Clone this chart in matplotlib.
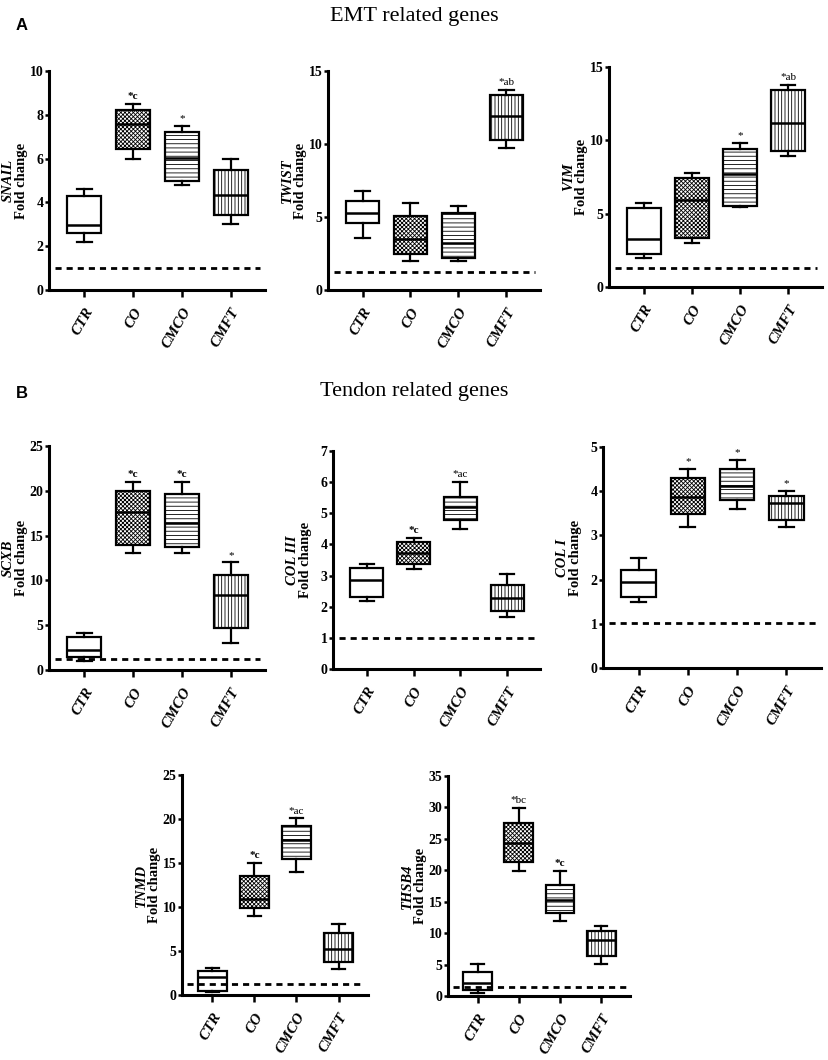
import matplotlib
matplotlib.use("Agg")
import matplotlib.pyplot as plt

plt.rcParams["font.family"] = ["Liberation Serif", "DejaVu Serif"]
plt.rcParams["hatch.linewidth"] = 0.6

# groups on the x axis
categories = ["CTR", "CO", "CMCO", "CMFT"]

# five-number summaries per group: (whisker low, q1, median, q3, whisker high)
snail = [(2.17, 2.58, 2.98, 4.30, 4.60), (6.00, 6.45, 7.60, 8.20, 8.50),
         (4.80, 4.98, 6.05, 7.20, 7.50), (3.00, 3.43, 4.33, 5.50, 6.00)]
twist = [(3.58, 4.56, 5.29, 6.09, 6.80), (1.98, 2.44, 3.46, 5.06, 5.97),
         (1.98, 2.21, 3.19, 5.24, 5.77), (9.76, 10.26, 11.92, 13.33, 13.72)]
vim = [(1.98, 2.28, 3.30, 5.40, 5.70), (3.00, 3.35, 5.92, 7.45, 7.80),
       (5.44, 5.53, 7.70, 9.43, 9.80), (8.95, 9.27, 11.16, 13.44, 13.80)]
scxb = [(1.00, 1.41, 2.23, 3.65, 4.09), (13.02, 13.95, 17.67, 19.98, 21.0),
        (13.02, 13.76, 16.44, 19.60, 21.0), (3.05, 4.65, 8.33, 10.60, 12.0)]
col3 = [(2.19, 2.32, 2.85, 3.23, 3.37), (3.20, 3.36, 3.71, 4.07, 4.21),
        (4.49, 4.78, 5.20, 5.53, 6.00), (1.68, 1.87, 2.27, 2.71, 3.05)]
col1 = [(1.50, 1.61, 1.95, 2.22, 2.50), (3.20, 3.48, 3.88, 4.30, 4.50),
        (3.59, 3.80, 4.11, 4.50, 4.71), (3.20, 3.34, 3.73, 3.90, 4.01)]
tnmd = [(0.30, 0.49, 2.08, 2.73, 3.10), (8.98, 9.85, 10.87, 13.56, 15.04),
        (14.0, 15.45, 17.61, 19.24, 20.08), (2.95, 3.79, 5.19, 7.00, 8.03)]
thsb4 = [(0.40, 0.95, 2.00, 3.76, 5.09), (19.94, 21.37, 24.30, 27.60, 29.96),
         (11.98, 13.15, 15.27, 17.66, 19.94), (5.04, 6.36, 8.90, 10.34, 11.13)]

# control level (dashed line) per panel
baselines = [1.0, 1.25, 1.28, 1.23, 1.0, 1.02, 1.21, 1.38]

# significance marks per panel, one per group
marks = [["", "*c", "*", ""], ["", "", "", "*ab"], ["", "", "*", "*ab"],
         ["", "*c", "*c", "*"], ["", "*c", "*ac", ""], ["", "*", "*", "*"],
         ["", "*c", "*ac", ""], ["", "*bc", "*c", ""]]

genes = ["SNAIL", "TWIST", "VIM", "SCXB", "COL III", "COL I", "TNMD", "THSB4"]
panel_data = [snail, twist, vim, scxb, col3, col1, tnmd, thsb4]
y_max = [10, 15, 15, 25, 7, 5, 25, 35]
y_step = [2, 5, 5, 5, 1, 1, 5, 5]

# pixel boxes of the axes: left, top, right, bottom
W, H = 829, 1060
boxes = [(49, 71, 265, 290), (328, 71, 540, 290), (609, 67, 822, 287),
         (49, 446, 265, 670), (333, 451, 540, 669), (603, 447, 821, 668),
         (182, 775, 368, 995), (448, 776, 630, 996)]
hatches = [None, "xxxxxxxx", "----", "|||||"]

fig = plt.figure(figsize=(W / 100, H / 100), dpi=100)

for i, gene in enumerate(genes):
    l, t, r, b = boxes[i]
    ax = fig.add_axes([l / W, 1 - b / H, (r - l) / W, (b - t) / H])
    stats = []
    for lo, q1, med, q3, hi in panel_data[i]:
        stats.append(dict(whislo=lo, q1=q1, med=med, q3=q3, whishi=hi))
    pos = list(range(1, len(categories) + 1))
    res = ax.bxp(stats, positions=pos, widths=0.7, capwidths=0.3,
                 patch_artist=True, showfliers=False,
                 boxprops=dict(linewidth=1.6, edgecolor="black", facecolor="white"),
                 medianprops=dict(linewidth=1.8, color="black"),
                 whiskerprops=dict(linewidth=1.6, color="black"),
                 capprops=dict(linewidth=1.6, color="black"))
    for patch, h in zip(res["boxes"], hatches):
        if h:
            patch.set_hatch(h)
    ax.hlines(baselines[i], 0.4, 4.6, colors="black", linewidth=2.0,
              linestyles=(0, (2.2, 1.8)), zorder=3)
    for p, st, m in zip(pos, stats, marks[i]):
        if m:
            ax.annotate(m, (p, st["whishi"]), xytext=(0, 2),
                        textcoords="offset points", ha="center", va="bottom",
                        fontsize=8, fontweight="bold" if m == "*c" else "normal")
    ax.set_xlim(0.28, 4.7)
    ax.set_ylim(0, y_max[i])
    yt = list(range(0, y_max[i] + 1, y_step[i]))
    ax.set_yticks(yt, [str(v) for v in yt], fontweight="bold", fontsize=10)
    ax.set_xticks(pos, categories, fontweight="bold", fontstyle="italic",
                  fontsize=11, rotation=60, ha="right", va="top",
                  rotation_mode="anchor")
    ax.spines["top"].set_visible(False)
    ax.spines["right"].set_visible(False)
    ax.spines["left"].set_linewidth(2.2)
    ax.spines["bottom"].set_linewidth(2.2)
    ax.tick_params(axis="y", length=3, width=1.8, pad=1)
    ax.tick_params(axis="x", length=5, width=1.8, pad=6)
    ax.annotate(gene, (0, 0.5), xycoords="axes fraction", xytext=(-29, 0),
                textcoords="offset points", rotation=90, ha="center",
                va="center", fontsize=10.5, fontweight="bold",
                fontstyle="italic")
    ax.annotate("Fold change", (0, 0.5), xycoords="axes fraction",
                xytext=(-19.5, 0), textcoords="offset points", rotation=90,
                ha="center", va="center", fontsize=10.5, fontweight="bold")

fig.text(0.5, 1 - 17 / H, "EMT related genes", ha="center", va="center",
         fontsize=16)
fig.text(0.5, 1 - 392 / H, "Tendon related genes", ha="center", va="center",
         fontsize=16)
fig.text(22 / W, 1 - 25 / H, "A", ha="center", va="center", fontsize=12,
         fontweight="bold", family="Liberation Sans")
fig.text(22 / W, 1 - 393 / H, "B", ha="center", va="center", fontsize=12,
         fontweight="bold", family="Liberation Sans")

fig.savefig("out.png", dpi=100)
